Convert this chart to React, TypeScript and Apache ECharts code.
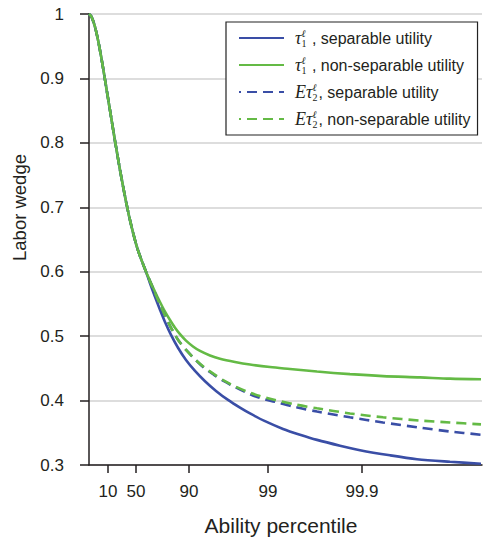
import React, { useEffect, useRef } from "react";
import * as echarts from "echarts";

// x positions are on a transformed ability scale (0 = lowest ability, 393 = top)
// Shared initial segment (all four curves coincide)
const sharedX = [0, 2, 4, 6, 8, 10, 12, 14, 16, 18, 20, 22, 24, 26, 28, 31, 34, 37, 40, 43, 46, 49, 53, 57];
const sharedY = [1.0, 0.997, 0.99, 0.98, 0.967, 0.952, 0.935, 0.917, 0.898, 0.879, 0.86, 0.841, 0.822, 0.803, 0.785, 0.758, 0.733, 0.709, 0.687, 0.667, 0.649, 0.633, 0.616, 0.6];

// tau_1, separable utility
const sepStaticX = [61, 66, 71, 76, 82, 89, 97, 106, 116, 127, 139, 151, 161, 176, 194, 211, 228, 251, 271, 301, 328, 361, 392];
const sepStaticY = [0.582, 0.561, 0.541, 0.522, 0.502, 0.482, 0.463, 0.446, 0.43, 0.415, 0.401, 0.389, 0.38, 0.368, 0.356, 0.347, 0.339, 0.33, 0.323, 0.315, 0.309, 0.305, 0.302];

// tau_1, non-separable utility
const nonSepStaticX = [61, 66, 71, 76, 81, 86, 91, 97, 104, 111, 121, 131, 146, 161, 181, 201, 228, 261, 294, 331, 361, 392];
const nonSepStaticY = [0.586, 0.569, 0.553, 0.538, 0.525, 0.513, 0.503, 0.493, 0.484, 0.477, 0.47, 0.465, 0.46, 0.456, 0.452, 0.449, 0.445, 0.441, 0.438, 0.436, 0.434, 0.433];

// E tau_2, separable / non-separable utility
const dynX = [61, 66, 71, 76, 81, 86, 91, 98, 106, 115, 125, 135, 146, 158, 171, 186, 206, 228, 261, 294, 331, 361, 392];
const sepDynY = [0.585, 0.567, 0.549, 0.532, 0.516, 0.502, 0.49, 0.477, 0.464, 0.451, 0.44, 0.43, 0.421, 0.412, 0.404, 0.398, 0.39, 0.383, 0.374, 0.366, 0.358, 0.352, 0.347];
const nonSepDynY = [0.585, 0.567, 0.549, 0.532, 0.516, 0.502, 0.49, 0.477, 0.464, 0.452, 0.441, 0.431, 0.422, 0.414, 0.407, 0.401, 0.394, 0.388, 0.38, 0.374, 0.369, 0.366, 0.363];

// x-axis tick positions and their percentile labels
const xTickPositions = [19, 47, 100, 179, 273];
const xTickLabels = ["10", "50", "90", "99", "99.9"];

const seriesNames = [
  "τ1ℓ, separable utility",
  "τ1ℓ, non-separable utility",
  "Eτ2ℓ, separable utility",
  "Eτ2ℓ, non-separable utility",
];
const legendRich = [
  "{m|τ}{sup|ℓ}{sub|1}{t| , separable utility}",
  "{m|τ}{sup|ℓ}{sub|1}{t| , non-separable utility}",
  "{m|Eτ}{sup|ℓ}{sub|2}{t|, separable utility}",
  "{m|Eτ}{sup|ℓ}{sub|2}{t|, non-separable utility}",
];

const BLUE = "#3a4ea6";
const GREEN = "#64ba45";
const INK = "#231f20";

function join(xs: number[], ys: number[]) {
  return xs.map((x, i) => [x, ys[i]]);
}

export default function App() {
  const ref = useRef<HTMLDivElement>(null);
  useEffect(() => {
    if (!ref.current) return;
    const chart = echarts.init(ref.current, null, { renderer: "svg" });
    const shared = join(sharedX, sharedY);
    const mk = (name: string, data: number[][], color: string, dashed: boolean, z: number) => ({
      name,
      type: "line",
      data,
      smooth: 0.3,
      symbol: "none",
      showSymbol: false,
      z,
      color,
      itemStyle: { color },
      lineStyle: { color, width: 2.6, type: dashed ? [10, 6] : "solid" },
      emphasis: { disabled: true },
    });
    chart.setOption({
      animation: false,
      textStyle: { fontFamily: "Liberation Sans" },
      grid: { left: 89, right: 1, top: 14, bottom: 77, containLabel: false, outerBoundsMode: "none" },
      legend: {
        orient: "vertical",
        left: 226,
        top: 22,
        padding: [6, 7, 6, 12],
        itemWidth: 45,
        itemHeight: 14,
        itemGap: 7,
        borderColor: "#222",
        borderWidth: 1.2,
        backgroundColor: "#fff",
        itemStyle: { opacity: 0, borderWidth: 0 },
        lineStyle: { dashOffset: 8 },
        data: seriesNames,
        formatter: (n: string) => legendRich[seriesNames.indexOf(n)],
        textStyle: {
          padding: [0, 0, 0, 6],
          rich: {
            m: { fontFamily: "Liberation Serif", fontStyle: "italic", fontSize: 18, color: INK, lineHeight: 20 },
            sup: { fontFamily: "Liberation Serif", fontStyle: "italic", fontSize: 10, color: INK, verticalAlign: "top", width: 0, lineHeight: 10 },
            sub: { fontFamily: "Liberation Serif", fontSize: 10, color: INK, verticalAlign: "bottom", lineHeight: 10, padding: [0, 1, 0, 0] },
            t: { fontFamily: "Liberation Sans", fontSize: 16, color: INK, lineHeight: 20 },
          },
        },
      },
      xAxis: {
        type: "value",
        min: 0,
        max: 393,
        name: "Ability percentile",
        nameLocation: "middle",
        nameGap: 50,
        nameTextStyle: { fontSize: 21, color: INK, fontFamily: "Liberation Sans", padding: [0, 9, 0, 0] },
        axisLine: { show: true, lineStyle: { color: INK, width: 1.5 } },
        axisTick: { show: true, customValues: xTickPositions, length: 8, lineStyle: { color: INK, width: 1.5 } },
        axisLabel: {
          customValues: xTickPositions,
          formatter: (v: number) => {
            const i = xTickPositions.indexOf(v);
            return i >= 0 ? xTickLabels[i] : "";
          },
          fontSize: 17,
          margin: 18,
          color: INK,
        },
        splitLine: { show: false },
      },
      yAxis: {
        type: "value",
        min: 0.3,
        max: 1,
        interval: 0.1,
        name: "Labor wedge",
        nameLocation: "middle",
        nameGap: 60,
        nameTextStyle: { fontSize: 18.5, color: INK, fontFamily: "Liberation Sans", padding: [0, 0, 0, 64] },
        axisLine: { show: true, lineStyle: { color: INK, width: 1.5 } },
        axisTick: { show: true, length: 9, lineStyle: { color: INK, width: 1.5 } },
        axisLabel: {
          formatter: (v: number) => (Math.abs(v - 1) < 1e-9 ? "1" : v.toFixed(1)),
          fontSize: 17,
          margin: 25,
          color: INK,
        },
        splitLine: { show: true, lineStyle: { color: "#d2d2d2", width: 1.5 } },
      },
      series: [
        mk(seriesNames[0], shared.concat(join(sepStaticX, sepStaticY)), BLUE, false, 1),
        mk(seriesNames[1], shared.concat(join(nonSepStaticX, nonSepStaticY)), GREEN, false, 2),
        mk(seriesNames[2], shared.concat(join(dynX, sepDynY)), BLUE, true, 3),
        mk(seriesNames[3], shared.concat(join(dynX, nonSepDynY)), GREEN, true, 4),
      ],
    });
    return () => chart.dispose();
  }, []);
  return <div ref={ref} style={{ position: "absolute", left: 0, top: 0, width: 483, height: 542 }} />;
}
